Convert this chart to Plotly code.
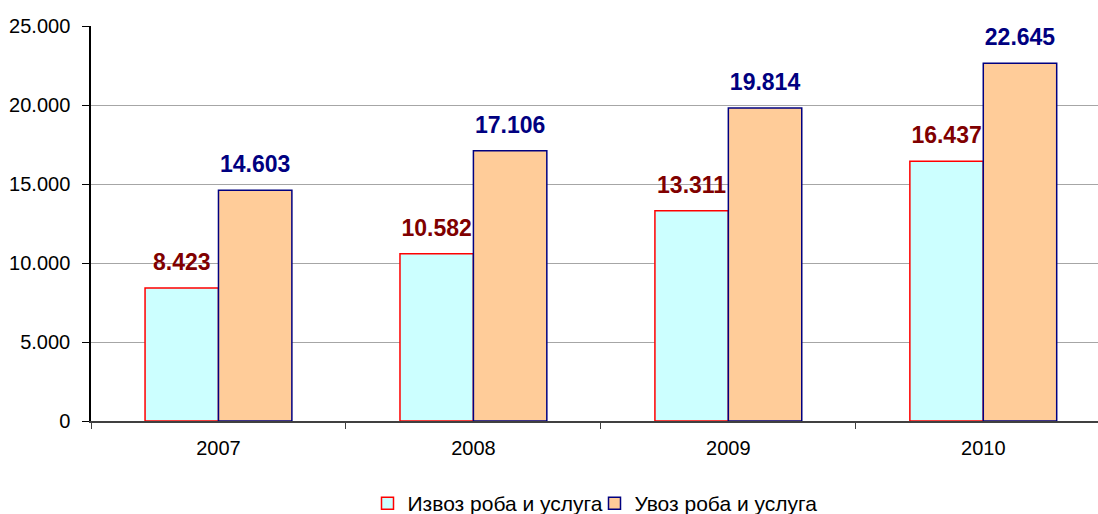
import plotly.graph_objects as go

years = ["2007", "2008", "2009", "2010"]
export_vals = [8423, 10582, 13311, 16437]
import_vals = [14603, 17106, 19814, 22645]
series_names = ["Извоз роба и услуга", "Увоз роба и услуга"]
y_ticks = [0, 5000, 10000, 15000, 20000, 25000]

FONT = "Liberation Sans, Arial"
GAP = 0.424

fig = go.Figure()
series = [
    (export_vals, series_names[0], "#CCFFFF", "#FF0000", "#800000"),
    (import_vals, series_names[1], "#FFCC99", "#000080", "#000080"),
]
for vals, name, fill, edge, tcol in series:
    fig.add_trace(go.Bar(
        x=years, y=vals, name=name,
        marker=dict(color=fill, line=dict(color=edge, width=1.5)),
        cliponaxis=False,
    ))
for vals, name, fill, edge, tcol in series:
    fig.add_trace(go.Scatter(
        x=years, y=vals, mode="markers+text", showlegend=False,
        texttemplate="<b>%{y:,}</b>", textposition="top center",
        textfont=dict(family=FONT, size=23, color=tcol),
        marker=dict(size=18, opacity=0), hoverinfo="skip",
        cliponaxis=False,
    ))

fig.update_layout(
    width=1098, height=514,
    margin=dict(l=91, r=0, t=26, b=93, autoexpand=False),
    paper_bgcolor="white", plot_bgcolor="white",
    barmode="group", bargap=GAP, bargroupgap=0,
    scattermode="group", scattergap=GAP,
    separators=",.",
    font=dict(family=FONT, size=20, color="black"),
    showlegend=True,
    legend=dict(orientation="h", x=0.5, xanchor="center", y=-0.157, yanchor="top",
                font=dict(size=21), itemwidth=30, traceorder="normal",
                tracegroupgap=0, entrywidth=182),
)
fig.update_xaxes(
    type="category", range=[-0.5, 3.45], automargin=False,
    showline=True, linecolor="#404040", linewidth=2,
    ticks="outside", tickson="boundaries", ticklen=6, tickcolor="#404040",
    tickfont=dict(size=20), showgrid=False, ticklabelstandoff=8,
)
fig.update_yaxes(
    range=[0, 25000], tickvals=y_ticks, tickformat=",d", automargin=False,
    showline=True, linecolor="black", linewidth=1.5,
    ticks="outside", ticklen=7, tickcolor="black",
    showgrid=True, gridcolor="#a6a6a6", gridwidth=1,
    tickfont=dict(size=20), zeroline=False, ticklabelstandoff=8,
)
fig.write_html("out.html", config={"displayModeBar": False},
               post_script="document.body.style.margin='0';document.body.style.overflow='hidden';")
